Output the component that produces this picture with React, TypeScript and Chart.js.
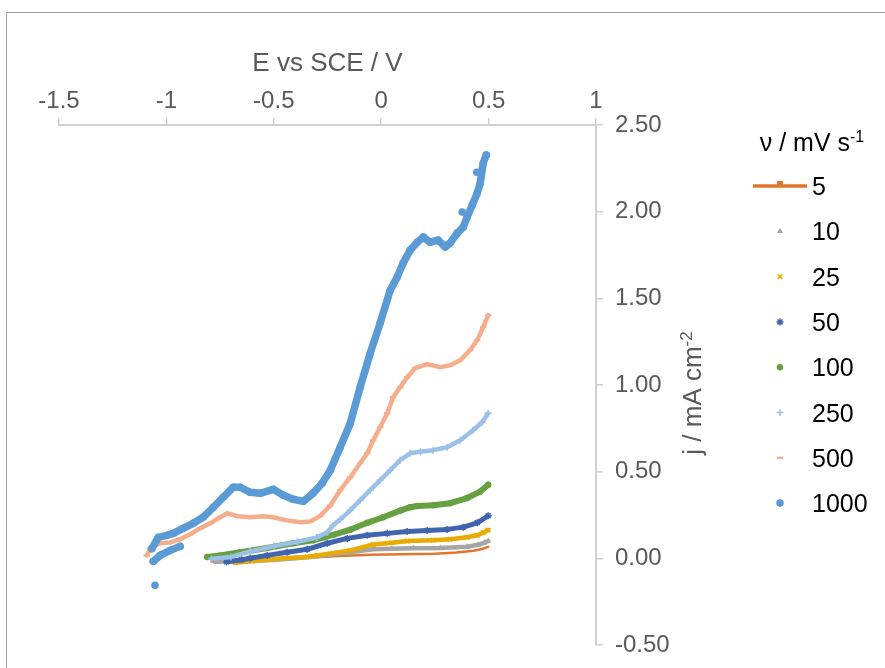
import React, { useEffect, useRef } from 'react';
import { Chart, registerables } from 'chart.js';
import { drawPoint } from 'chart.js/helpers';

Chart.register(...registerables);

// Scan rates (mV s-1), in legend order
const SCAN_RATES = ['5', '10', '25', '50', '100', '250', '500', '1000'];

// Axis tick labels
const X_TICK_LABELS = ['-1.5', '-1', '-0.5', '0', '0.5', '1'];
const Y_TICK_LABELS = ['-0.50', '0.00', '0.50', '1.00', '1.50', '2.00', '2.50'];

// Potential E (V vs SCE) and current density j (mA cm-2) for each scan rate
const E_5 = [-0.79, -0.65, -0.5, -0.35, -0.2, -0.05, 0.1, 0.25, 0.35, 0.43, 0.47, 0.498];
const J_5 = [-0.018, -0.012, -0.004, 0.004, 0.014, 0.02, 0.023, 0.027, 0.034, 0.044, 0.054, 0.066];

const E_10 = [-0.77, -0.6, -0.503, -0.4, -0.3, -0.191, -0.1, -0.037, 0.05, 0.15, 0.275, 0.4, 0.45, 0.48, 0.498];
const J_10 = [-0.02, -0.015, -0.01, 0.0, 0.012, 0.029, 0.042, 0.052, 0.056, 0.058, 0.06, 0.067, 0.078, 0.09, 0.1];

const E_25 = [-0.68, -0.6, -0.456, -0.345, -0.298, -0.144, -0.037, 0.05, 0.121, 0.242, 0.32, 0.4, 0.447, 0.475, 0.498];
const J_25 = [-0.025, -0.015, 0.0, 0.008, 0.017, 0.046, 0.08, 0.09, 0.1, 0.105, 0.11, 0.122, 0.133, 0.148, 0.163];

const E_50 = [-0.72, -0.65, -0.61, -0.531, -0.438, -0.345, -0.251, -0.158, -0.065, 0.028, 0.121, 0.214, 0.307, 0.382, 0.447, 0.498];
const J_50 = [-0.02, -0.008, 0.0, 0.017, 0.035, 0.052, 0.087, 0.115, 0.133, 0.144, 0.155, 0.16, 0.167, 0.18, 0.205, 0.245];

const E_100 = [-0.81, -0.75, -0.656, -0.531, -0.41, -0.317, -0.223, -0.144, -0.065, 0.009, 0.088, 0.135, 0.168, 0.242, 0.321, 0.4, 0.461, 0.498];
const J_100 = [0.008, 0.017, 0.035, 0.06, 0.087, 0.104, 0.135, 0.165, 0.205, 0.237, 0.275, 0.295, 0.302, 0.306, 0.318, 0.348, 0.385, 0.425];

const E_250 = [-0.79, -0.7, -0.61, -0.5, -0.39, -0.3, -0.25, -0.225, -0.19, -0.144, -0.098, -0.051, -0.005, 0.042, 0.088, 0.135, 0.182, 0.242, 0.307, 0.368, 0.428, 0.47, 0.498];
const J_250 = [-0.003, 0.008, 0.04, 0.07, 0.095, 0.12, 0.15, 0.19, 0.225, 0.277, 0.335, 0.393, 0.45, 0.508, 0.566, 0.606, 0.615, 0.624, 0.641, 0.681, 0.739, 0.785, 0.837];

const E_500 = [-1.091, -1.075, -1.029, -0.982, -0.936, -0.889, -0.843, -0.796, -0.75, -0.717, -0.67, -0.61, -0.549, -0.503, -0.438, -0.377, -0.331, -0.284, -0.237, -0.191, -0.144, -0.098, -0.065, -0.037, -0.005, 0.028, 0.056, 0.088, 0.121, 0.158, 0.214, 0.275, 0.321, 0.368, 0.414, 0.447, 0.475, 0.498];
const J_500 = [0.017, 0.058, 0.087, 0.092, 0.11, 0.139, 0.173, 0.202, 0.237, 0.26, 0.243, 0.237, 0.243, 0.237, 0.219, 0.208, 0.212, 0.245, 0.305, 0.393, 0.468, 0.549, 0.606, 0.681, 0.756, 0.837, 0.93, 0.987, 1.045, 1.097, 1.12, 1.103, 1.114, 1.143, 1.201, 1.259, 1.334, 1.403];

const E_1000 = [-1.068, -1.038, -0.996, -0.968, -0.922, -0.875, -0.829, -0.782, -0.736, -0.689, -0.656, -0.61, -0.563, -0.503, -0.456, -0.41, -0.363, -0.317, -0.275, -0.237, -0.191, -0.144, -0.098, -0.051, -0.005, 0.042, 0.074, 0.102, 0.135, 0.168, 0.196, 0.228, 0.265, 0.298, 0.321, 0.354, 0.382, 0.4, 0.424, 0.447, 0.461, 0.475, 0.489];
const J_1000 = [0.056, 0.121, 0.133, 0.144, 0.173, 0.202, 0.237, 0.294, 0.352, 0.41, 0.41, 0.381, 0.375, 0.398, 0.364, 0.341, 0.329, 0.375, 0.433, 0.508, 0.641, 0.779, 0.987, 1.184, 1.357, 1.547, 1.622, 1.703, 1.778, 1.824, 1.853, 1.824, 1.836, 1.796, 1.819, 1.876, 1.911, 1.969, 2.038, 2.107, 2.165, 2.281, 2.327];
// short lower branch at the start of the 1000 mV s-1 scan
const E_1000_LOW = [-1.061, -1.029, -0.982, -0.936];
const J_1000_LOW = [-0.017, 0.017, 0.046, 0.069];
// isolated points of the 1000 mV s-1 scan
const E_1000_STRAY = [-1.053, 0.377, 0.445];
const J_1000_STRAY = [-0.156, 1.998, 2.227];

const SERIES_E = [E_5, E_10, E_25, E_50, E_100, E_250, E_500, E_1000];
const SERIES_J = [J_5, J_10, J_25, J_50, J_100, J_250, J_500, J_1000];

// Drawing style per scan rate
const STYLES = [
  { color: '#E2752E', pointStyle: 'circle', radius: 0, pointBorder: 0, lineWidth: 2.5 },
  { color: '#A5A5A5', pointStyle: 'triangle', radius: 3.5, pointBorder: 0, lineWidth: 4.5 },
  { color: '#E8AB00', pointStyle: 'crossRot', radius: 3.2, pointBorder: 1.6, lineWidth: 4.5 },
  { color: '#4064AE', pointStyle: 'star', radius: 3.5, pointBorder: 1.5, lineWidth: 5 },
  { color: '#66A040', pointStyle: 'circle', radius: 3.2, pointBorder: 0, lineWidth: 6 },
  { color: '#9CC0E6', pointStyle: 'cross', radius: 3.5, pointBorder: 1.5, lineWidth: 4.5 },
  { color: '#F4AE8C', pointStyle: 'line', radius: 3.2, pointBorder: 2.2, lineWidth: 4.5 },
  { color: '#5B9BD5', pointStyle: 'circle', radius: 3.8, pointBorder: 0, lineWidth: 7.5 },
];

const FONT = '"Liberation Sans", Arial, sans-serif';
const AXIS_GRAY = '#595959';
const LINE_GRAY = '#D0D0D0';

const toPoints = (xs: number[], ys: number[]) => xs.map((x, i) => ({ x, y: ys[i] }));

function makeDataset(data: { x: number; y: number }[], s: any, order: number, showLine = true) {
  return {
    data,
    showLine,
    borderColor: s.color,
    backgroundColor: s.color,
    borderWidth: s.lineWidth,
    borderCapStyle: 'round',
    borderJoinStyle: 'round',
    tension: 0,
    pointStyle: s.pointStyle,
    pointRadius: s.radius,
    pointBorderWidth: s.pointBorder,
    pointBorderColor: s.color,
    pointBackgroundColor: s.color,
    pointHoverRadius: s.radius,
    order,
  };
}

function drawSupText(ctx: CanvasRenderingContext2D, main: string, sup: string, size: number, supSize: number, cx: number, baseline: number, color: string) {
  ctx.fillStyle = color;
  ctx.textBaseline = 'alphabetic';
  ctx.textAlign = 'left';
  ctx.font = `${size}px ${FONT}`;
  const w1 = ctx.measureText(main).width;
  ctx.font = `${supSize}px ${FONT}`;
  const w2 = ctx.measureText(sup).width;
  const x0 = cx - (w1 + w2) / 2;
  ctx.font = `${size}px ${FONT}`;
  ctx.fillText(main, x0, baseline);
  ctx.font = `${supSize}px ${FONT}`;
  ctx.fillText(sup, x0 + w1, baseline - size * 0.36);
}

const overlayPlugin = {
  id: 'overlay',
  afterDraw(chart: any) {
    const { ctx, chartArea } = chart;
    const { right, top, bottom } = chartArea;
    ctx.save();

    // vertical axis title, reading bottom to top
    ctx.save();
    ctx.translate(right + 105, (top + bottom) / 2 + 8);
    ctx.rotate(-Math.PI / 2);
    drawSupText(ctx, 'j / mA cm', '-2', 26, 17, 0, 0, AXIS_GRAY);
    ctx.restore();

    // legend
    const markerX = right + 184;
    const textX = right + 216;
    drawSupText(ctx, 'ν / mV s', '-1', 25, 16, right + 216, top + 26, '#000000');
    SCAN_RATES.forEach((label, i) => {
      const s = STYLES[i];
      const baseY = top + 70 + 45.3 * i;
      const cy = baseY - 9;
      ctx.fillStyle = s.color;
      ctx.strokeStyle = s.color;
      if (i === 0) {
        ctx.lineWidth = 3.5;
        ctx.lineCap = 'butt';
        ctx.beginPath();
        ctx.moveTo(markerX - 27, cy);
        ctx.lineTo(markerX + 27, cy);
        ctx.stroke();
        ctx.fillRect(markerX - 3, cy - 5, 6, 5);
      } else {
        ctx.lineWidth = s.pointBorder;
        drawPoint(ctx, { pointStyle: s.pointStyle, rotation: 0, radius: s.radius, borderWidth: s.pointBorder }, markerX, cy);
      }
      ctx.fillStyle = '#000000';
      ctx.font = `25px ${FONT}`;
      ctx.textAlign = 'left';
      ctx.textBaseline = 'alphabetic';
      ctx.fillText(label, textX, baseY);
    });
    ctx.restore();
  },
};

export default function App() {
  const canvasRef = useRef<HTMLCanvasElement | null>(null);

  useEffect(() => {
    const canvas = canvasRef.current;
    if (!canvas) return;

    const datasets: any[] = SERIES_E.map((xs, i) =>
      makeDataset(toPoints(xs, SERIES_J[i]), STYLES[i], 20 - i)
    );
    const s1000 = STYLES[7];
    datasets.push(makeDataset(toPoints(E_1000_LOW, J_1000_LOW), s1000, 0));
    datasets.push(makeDataset(toPoints(E_1000_STRAY, J_1000_STRAY), s1000, 0, false));

    const chart = new Chart(canvas, {
      type: 'scatter',
      data: { datasets },
      plugins: [overlayPlugin],
      options: {
        responsive: false,
        maintainAspectRatio: false,
        devicePixelRatio: 1,
        animation: false,
        events: [],
        layout: { padding: { left: 59, right: 0, top: 0, bottom: 23 } },
        plugins: { legend: { display: false }, tooltip: { enabled: false } },
        scales: {
          x: {
            type: 'linear',
            position: 'top',
            min: -1.5,
            max: 1,
            afterFit: (scale: any) => { scale.height = 125; },
            ticks: {
              stepSize: 0.5,
              padding: 2,
              color: AXIS_GRAY,
              font: { family: FONT, size: 24 },
              callback: (_v: any, i: number) => X_TICK_LABELS[i],
            },
            grid: { drawOnChartArea: false, drawTicks: true, tickLength: 7, color: LINE_GRAY, lineWidth: 1.5 },
            border: { display: true, color: LINE_GRAY, width: 2 },
            title: {
              display: true,
              text: 'E vs SCE / V',
              color: AXIS_GRAY,
              font: { family: FONT, size: 26 },
              padding: { top: 48, bottom: 0 },
            },
          },
          y: {
            type: 'linear',
            position: 'right',
            min: -0.5,
            max: 2.5,
            afterFit: (scale: any) => {
              scale.width = 289;
              scale.paddingTop = 0;
              scale.paddingBottom = 0;
            },
            ticks: {
              stepSize: 0.5,
              padding: 12,
              color: AXIS_GRAY,
              font: { family: FONT, size: 24 },
              callback: (_v: any, i: number) => Y_TICK_LABELS[i],
            },
            grid: { drawOnChartArea: false, drawTicks: true, tickLength: 7, color: LINE_GRAY, lineWidth: 1.5 },
            border: { display: true, color: LINE_GRAY, width: 2 },
          },
        },
      },
    } as any);

    return () => chart.destroy();
  }, []);

  return (
    <div style={{ position: 'fixed', left: 0, top: 0, width: 885, height: 668, overflow: 'hidden', background: '#ffffff' }}>
      <div style={{ position: 'absolute', left: 6, top: 12, width: 1000, height: 1000, border: '1px solid #A0A0A0' }} />
      <canvas ref={canvasRef} width={885} height={668} style={{ position: 'absolute', left: 0, top: 0, display: 'block' }} />
    </div>
  );
}
